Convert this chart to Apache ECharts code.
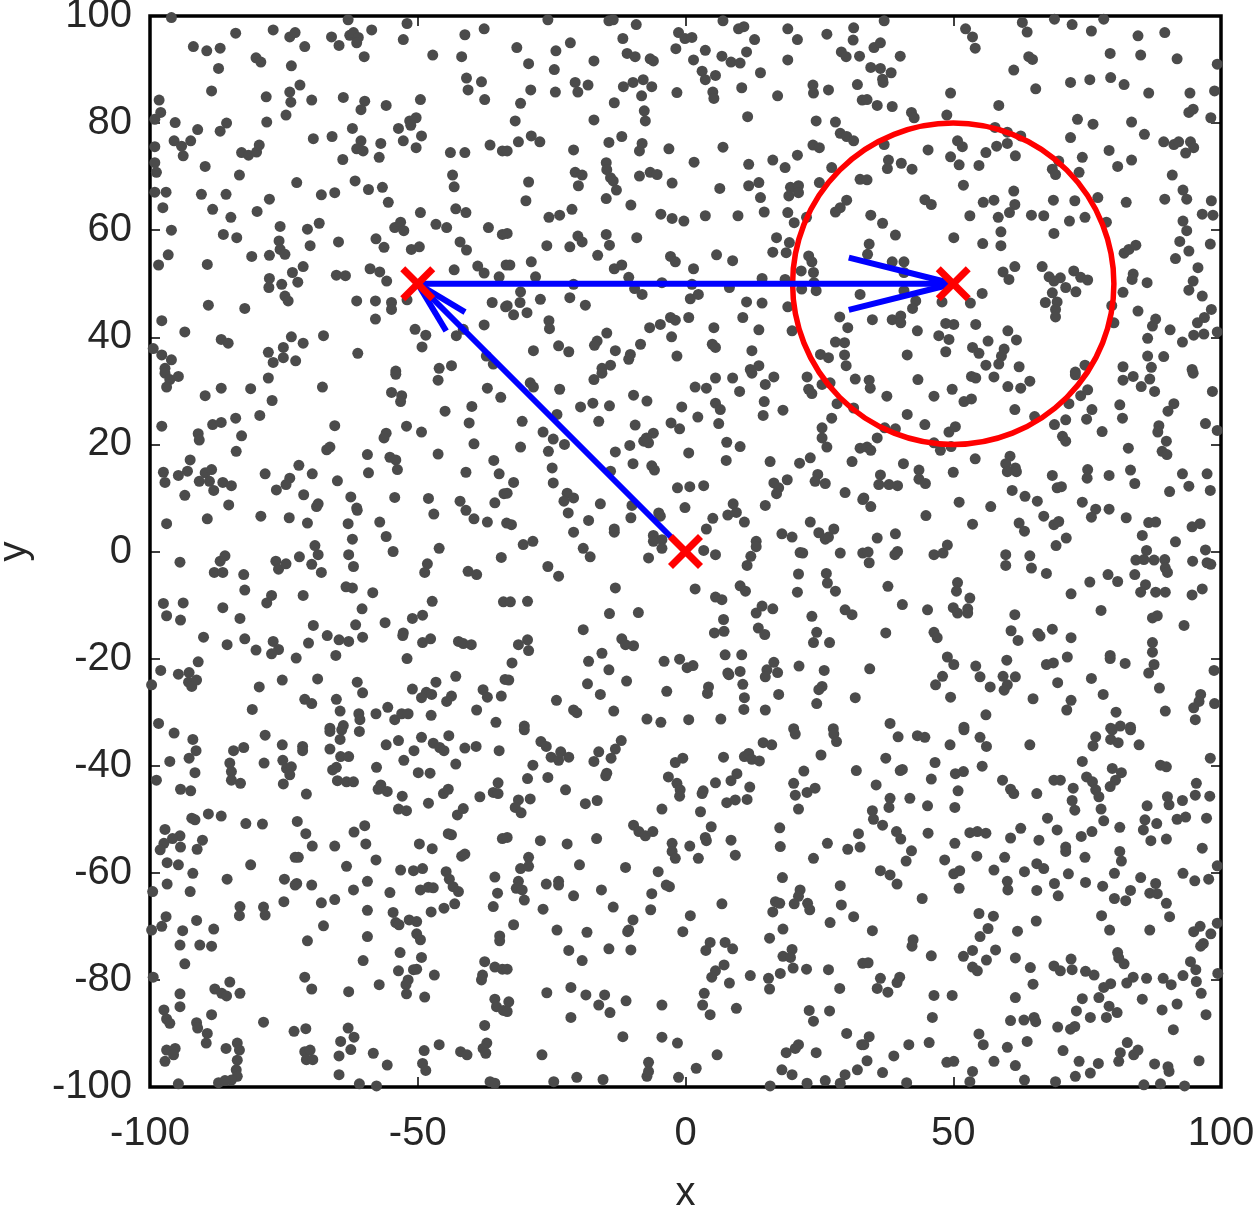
<!DOCTYPE html>
<html>
<head>
<meta charset="utf-8">
<script src="https://cdn.jsdelivr.net/npm/echarts@6/dist/echarts.min.js"></script>
<style>
html,body{margin:0;padding:0;background:#fff;}
#chart{width:1257px;height:1210px;}
</style>
</head>
<body>
<div id="chart"></div>
<script>
// ---- data (x, y in data units) ----
const pointsTopLeft = [[-96,99.7],[-84,96.8],[-77,97.4],[-73.9,96.1],[-72.9,96.9],[-66.1,96.1],[-64.7,94.5],[-63,99.3],[-62.7,96.4],[-62,96.9],[-61.1,96],[-61.4,95],[-58.6,97.4],[-60,92.4],[-52,98.6],[-52.7,95.6],[-47.2,92.7],[-41.2,96.5],[-37.6,97.6],[-41.8,92.4],[-91.9,94.3],[-89.4,93.5],[-86.9,94],[-80.2,92.2],[-79.3,91.4],[-71.1,94.3],[-73.6,90.7],[-87.2,90.2],[-88.5,86],[-78.3,84.9],[-72,87.1],[-73.9,85.8],[-73.7,83.9],[-69.8,84.3],[-63.9,84.8],[-59.9,84.1],[-60.6,82.5],[-55.9,83.3],[-49.5,84.4],[-40.9,88.4],[-40.6,86.2],[-38.1,87.7],[-37.5,84.4],[-98.3,84.3],[-98,82],[-99.1,80.7],[-95.3,80.1],[-91.1,78.8],[-85.7,80],[-86.9,78.5],[-78.2,80.2],[-74.6,81.5],[-62.2,79],[-53.6,79],[-51.5,80.4],[-50.3,81],[-51.3,79.6],[-49.3,77.6],[-52.7,76.7],[-50.3,75.4],[-95.5,76.7],[-94.1,75.7],[-92.4,76.7],[-93.8,73.9],[-99.1,75.6],[-99.1,72.6],[-98.8,70.8],[-89.7,71.9],[-82.9,74.5],[-81.6,74],[-80.1,74.6],[-79.6,75.9],[-83.3,70.3],[-69.5,77.1],[-66,77.5],[-60.6,76.7],[-61.4,75.2],[-60.2,74.8],[-56.9,76.2],[-64,73.2],[-57.2,73.6],[-43.9,74.5],[-41.2,74.5],[-36.5,75.9],[-34.2,74.8],[-43.5,70.3],[-43.2,68.1],[-72.6,68.9],[-61.7,69.2],[-59.2,67.6],[-56.6,68],[-55.5,65.2],[-99.1,67.1],[-97,67.1],[-97.6,64.2],[-90.4,66.7],[-85.8,66.7],[-88.3,63.9],[-84.9,62.4],[-77.7,65.8],[-80,63.5],[-68,66.6],[-65.5,67],[-49.5,63.3],[-42.9,64],[-41,63.3],[-96,60],[-86.3,59.2],[-83.8,58.6],[-75.7,60.7],[-75.9,58],[-75.7,56.4],[-70.6,60.2],[-68.4,61.3],[-70.1,57.1],[-64.8,57.8],[-54.3,60.5],[-53.2,61.5],[-52.6,59.9],[-46.6,61.1],[-44.6,60.5],[-36.8,60.5],[-34.2,59.2],[-57.8,58.4],[-56.3,56.8],[-51.2,56.4],[-49.7,56.9],[-42.1,57.8],[-40.9,56.3],[-96.6,55.4],[-98.4,53.5],[-89.3,53.6],[-81,55.1],[-77.7,55.3],[-74.8,55.5],[-71.4,53.2],[-73.4,52.1],[-72.4,50.3],[-77.7,51],[-77.8,49.3],[-75.4,49.9],[-74.8,47.7],[-74.2,46.8],[-58.9,52.8],[-57.1,52.2],[-55.8,50.5],[-65.2,51.6],[-63.5,51.5],[-43.2,52.6],[-38.8,53.3],[-37.6,52],[-34.8,51.3],[-33.5,53.5],[-89.1,46],[-82.3,45.4],[-61.4,46.8],[-57.9,46.8],[-54.9,46.5],[-54.9,45.2],[-52,47],[-36.1,46.5],[-33.6,45.7],[-97.8,43.1],[-93.5,41],[-86.7,39.6],[-85.4,38.9],[-73.6,40.1],[-71.4,38.9],[-67.6,40.3],[-57.9,43.4],[-50.5,41.5],[-48.5,40.4],[-49.2,38.2],[-42.8,40.3],[-41.5,41.5],[-37.6,42.3],[-99.4,37.9],[-97.8,36.7],[-96,35.8],[-97.2,34.2],[-77.9,37.2],[-77,35.3],[-75.1,38.1],[-75.1,36.2],[-72.8,35.6],[-61.2,37],[-46,34.2],[-43.7,34.7],[-37.2,36.5],[-35.9,35],[-54.1,33.7]];

const pointsTopMid = [[-25.7,99.3],[-14.3,99.1],[-13.5,99.3],[-9.2,98.4],[7,99.1],[9.9,97.6],[10.9,98],[19.1,97.6],[26.4,96.6],[31.4,97.8],[31.3,95.5],[-11.7,95.8],[-1.3,96.9],[-0.1,95.8],[1.2,96],[-1.8,93.9],[3.7,93.6],[6.8,92.5],[8.5,91.4],[10.2,91.2],[11.4,93.3],[12.9,95.6],[20.9,95.6],[19.1,91.8],[29.1,93.3],[30,92.4],[32.5,92.5],[-31.5,94.1],[-21.5,95],[-24.2,93.5],[-29.3,91.1],[-17.1,91.6],[-10.9,93],[-9.4,92.4],[-6.6,92],[-6,91.6],[1.5,91.8],[3.1,89.7],[3.7,88.1],[5.6,88.9],[-24.5,90],[14,89.4],[-20.6,87.6],[-20.1,85.8],[-18.2,87.1],[-11.6,86.8],[-9.8,87.6],[-7.9,88.1],[-6.3,86.8],[-8.2,85.1],[-28.9,86.2],[-24.3,85.8],[-30.8,83.7],[-13.3,83.8],[-1.6,85.7],[5.1,85.8],[5.3,84.6],[10.5,86.6],[17.2,85.1],[23.8,87.1],[23.9,85.6],[26.7,86.2],[32.1,87.2],[33,84.3],[-7.7,82.3],[-7.5,80.4],[-17.1,80.6],[-31.8,80.4],[11.6,81.2],[24.4,80.4],[28,80.2],[28.9,78.1],[30.1,77.5],[31.4,76.7],[-31.2,76.5],[-28.8,77.6],[-27.2,76.5],[-20.9,75],[-14.3,76.4],[-11.9,77.5],[-8.1,76.2],[-8.6,74.8],[-3.1,75.2],[7,75.5],[-33.3,74.8],[23.8,75.9],[25,75.4],[1.6,72.7],[11.8,72.3],[16.3,73.1],[18.6,71.7],[20.9,74],[27.3,71.7],[-14.8,72.6],[-14.7,71.3],[-14,69.8],[-13.5,69.2],[-20.6,70.8],[-19.3,70.3],[-20,68.3],[-29.3,69],[-8.6,70.1],[-6.6,70.8],[-5.3,70.4],[-2.5,68.8],[6.4,67.8],[11.8,68.3],[13.7,68.9],[14,66.1],[19.6,68],[21.1,68.3],[21.1,67],[19.3,66.4],[25,68.9],[32.6,69.5],[-12.9,67.5],[-29.8,65.5],[-14.8,65.9],[-10.2,64.7],[28,63.4],[28.9,64.2],[30.1,65.6],[-21.2,63.9],[-25.5,62.4],[-23.5,62.8],[-4.6,63],[-2.5,62.2],[-0.3,61.7],[3.7,62.7],[9.8,62.7],[14.7,63.4],[19.1,63.3],[20.3,61.4],[22.6,62.4],[-33.3,59.4],[-20.1,58.9],[-19.3,57.8],[-14.8,59.2],[-9.1,58.6],[-25.9,57.1],[-21.6,56.9],[-14.2,57.2],[17,58.6],[19.4,57.7],[18.8,55.8],[16.3,55.9],[-16.4,55.3],[-2.8,55.1],[-1.9,54.1],[5.8,55.4],[8.8,54.3],[23,55.2],[23.6,54.1],[-32.8,53.5],[-28.8,54.1],[-28,51.3],[-13.3,52.8],[-11.9,53.5],[-10.6,51.2],[1.5,52.8],[14.3,51],[18.6,50.8],[21.6,52.4],[23.9,52.1],[24,50.2],[-20.9,49.9],[-4.4,50.2],[1.2,49.9],[-9.5,49.1],[-8.1,48],[-30.8,48.5],[-30.9,46.5],[-33.3,45.9],[-32.1,44.2],[-29.6,44.6],[-27.1,47.1],[-21.6,47.4],[-18.7,46],[0.9,47.2],[2.4,48],[8.2,49.3],[11.4,46.6],[14.3,46.4],[19.1,45.7],[21.7,49],[24.4,48.7],[32.6,48],[-25.5,43.1],[-25.4,41.6],[-14.7,40.8],[-16.5,39.3],[-17,38.5],[-6.7,41.8],[-4.7,42.4],[-2.8,43.7],[-1.9,43.2],[0.6,43.7],[-2.6,40.1],[5.3,41.8],[10.7,43.7],[13.7,41.4],[19.9,41.2],[28.8,43.8],[30.3,41.8],[-28.4,37.5],[-23.7,38.4],[-21.8,37.3],[-13.1,37.5],[-10.3,36.8],[-10.6,35.9],[-8.4,38.7],[-1.6,36.5],[5,38.7],[5.6,38.1],[12.4,37.5],[28,39.1],[29.7,39],[29.7,36.7],[30,34.7],[25.2,36.8],[26.7,36.2],[-15.6,34.2],[-14,34.8],[12.1,34],[13.7,34.7]];

const pointsTopRight = [[37.1,99.1],[52.3,97.6],[53.6,96.1],[54.1,94],[62.9,98.8],[63.8,97],[68.9,99.4],[72.2,98.4],[78.1,99.4],[75.8,97.2],[84.5,96.3],[89.5,96.9],[35.2,94.1],[36.4,95],[40.1,92.5],[34.6,90.4],[36.4,90.2],[38.4,89.4],[36.8,88.2],[36.9,87.6],[64.1,92.4],[64.8,91.9],[61.3,89.9],[65.4,86.4],[79.3,93],[85,92.7],[91.8,92],[99.3,91],[71.9,87.6],[75.5,88.1],[79.4,88.5],[81.9,87.2],[86.5,85.6],[94.2,85.6],[98.8,86],[33.9,84.4],[35.8,83.3],[38.6,83.1],[42.2,82],[42.7,81],[49.5,85.6],[48.8,81.5],[58.5,83.3],[73.2,80.7],[76.1,79.8],[83.3,80.2],[94,82],[94.8,82.6],[98.1,81],[85.7,77.9],[71.9,77.3],[57.8,79.2],[60.1,78.3],[62.6,77.6],[58.1,75.7],[60.1,76.2],[37.1,76],[50.8,76.7],[51.7,75.6],[45.3,75],[49.5,73.7],[51.1,72.2],[56.1,74.5],[54.8,72.1],[61.6,73.9],[37.9,73.1],[37.7,71.5],[40.3,72.5],[42.3,71.4],[33.9,69.4],[69.7,72.9],[68.5,71.4],[69.1,70.4],[74.1,73.6],[73.5,70.8],[79.1,74.9],[80.7,71.9],[83.3,73.1],[89.3,76.5],[91.2,76],[92.1,76.5],[94.3,76.5],[94.9,75.4],[93.4,74.4],[90.9,70.3],[51.9,68.4],[61.3,67.3],[61.5,64.8],[60.5,63.3],[44.7,65.7],[45.9,64.8],[55.6,65.2],[57.6,65.6],[68.7,65.6],[72.7,65.5],[77,66.1],[82.3,65.2],[89.5,65.8],[92.9,67.5],[93.6,65.8],[98.2,65.5],[34.6,62.8],[36.8,61.3],[53.1,62.7],[58.4,62.4],[64.6,62.8],[66.9,62.7],[71.7,61.7],[74.6,62.4],[78.6,61.5],[92.9,61.7],[93.6,59.9],[92.3,57.9],[94,56.1],[96.5,63],[98.5,62.8],[98,57.4],[39.2,59.1],[34.3,57.4],[34,55.5],[50.1,58.6],[55.5,57.5],[58.9,59.7],[58.9,57.1],[68.8,59.4],[81.9,55.7],[82.8,56.4],[84.1,57.2],[91.5,54.7],[95.7,53],[38.6,54.1],[40.8,54.1],[40.8,52.1],[61.5,53.2],[59.3,52.2],[60.4,50.8],[66.6,53.2],[67.9,51.3],[70,51.1],[68.8,50.5],[72.5,52.4],[73.8,51.2],[75.1,50.7],[71,49.3],[72.9,48.5],[83.6,51.8],[83.4,50.8],[86.2,50.2],[94.8,50.5],[94,48.8],[96.5,47.7],[81.7,48.4],[40.8,48.7],[43,46.8],[42.4,45.4],[47.9,46.6],[53.2,46.4],[55.4,48.2],[68.5,48.3],[67.2,46.5],[69.4,46.6],[69.1,45.2],[69.1,43.8],[79.6,45.9],[84.5,44.9],[98.2,45.2],[96.9,43.7],[95.6,42.7],[34.9,43.3],[38.6,43.3],[40.2,44],[40.2,42.7],[48.6,42.6],[50.1,42.4],[54.2,42.4],[43.3,41.2],[47.3,40.3],[49.2,39.6],[60.2,41.2],[61.8,39.5],[56.5,39.3],[80,42.7],[87.8,43.4],[87.2,42.1],[90.5,41.4],[94.9,40.4],[96.8,40.6],[99.3,41],[92.8,39.1],[86.3,39.8],[41.4,36.7],[48.6,37.3],[53.6,38.1],[54.8,37],[59.5,37.8],[59,36.5],[58.5,35],[56.1,34.8],[62.3,34.5],[74.6,34.8],[72.8,33.5],[81.7,34.5],[86.3,36.5],[89.3,36.4],[87,34.4],[94.6,34]];

const pointsMidLeft = [[-97.2,33.3],[-96.3,32.1],[-94.7,32.7],[-96.9,30.7],[-89.7,29.1],[-86.7,30.5],[-81.2,30.4],[-77.9,32.4],[-77.2,28.2],[-67.8,30.7],[-54.1,33.1],[-54.9,29.7],[-53,29.1],[-53.2,28],[-46.2,32],[-37,30.5],[-34.5,28.8],[-97.8,23.4],[-91,22],[-90.8,20.8],[-88.3,23.7],[-86.7,24.1],[-84,24.9],[-82.9,21.6],[-79.5,25.4],[-83.9,18.7],[-65.5,23.5],[-67,19],[-66.4,19.5],[-55.9,22.1],[-56.3,21.2],[-52.1,23.4],[-49.3,22.3],[-44.9,26.2],[-39.9,27.1],[-40.4,24],[-39.5,20.1],[-59.4,18.1],[-46.2,18.2],[-55.2,17.6],[-54.1,17.1],[-53.8,15.3],[-35.8,17],[-34.8,14.5],[-41,14.8],[-92.5,17.1],[-97.5,14.8],[-97.2,12.9],[-94.7,14.2],[-93,15],[-90.8,13.1],[-89.7,14.7],[-88.5,15.3],[-88.9,13.1],[-88.1,11.4],[-86.4,12.9],[-84.8,12.3],[-93.5,10.5],[-85.3,8.7],[-78.5,14.5],[-72.2,16.1],[-69.7,14.5],[-73.9,13.7],[-74.6,12.5],[-76.4,11.5],[-71.3,10.6],[-65,13.2],[-59.2,14.7],[-62.5,10.2],[-61.4,8.1],[-61.3,7.7],[-68.6,8.9],[-68.9,8.4],[-54.3,10.1],[-48,9.9],[-47,7],[-42.1,9.4],[-41,7.7],[-39.5,6.1],[-37,5.5],[-35.6,9.1],[-33.9,10.8],[-33.4,5.3],[-96.9,5.2],[-89.3,6.1],[-79.3,6.6],[-74,6.3],[-70.6,5.3],[-63,5.2],[-57.1,5.5],[-55.9,2.8],[-54.6,0],[-62.2,2.3],[-69.2,1.1],[-68.6,-0.6],[-62.9,-0.6],[-62,-2.8],[-72.1,-1],[-69.8,-2.4],[-68,-3.9],[-76.5,-1.8],[-76,-3.3],[-74.6,-2.3],[-94.4,-2],[-86.9,-1.8],[-86,-0.8],[-88,-3.9],[-86.4,-3.9],[-82.5,-4.3],[-82.3,-7.2],[-46,0.6],[-48.2,-2.3],[-48.7,-3.9],[-40.6,-3.7],[-39,-4.3],[-34.4,-1.1],[-63.4,-6.6],[-62.2,-6.8],[-58.4,-7.7],[-71.4,-8.2],[-77.3,-8.2],[-78.2,-9.6],[-97.5,-9.7],[-96.9,-12],[-93.8,-9.6],[-94.3,-12.8],[-86.4,-10.5],[-83.2,-12.5],[-60.4,-10.7],[-61.6,-13.7],[-60.3,-16],[-47.3,-9.3],[-49.1,-11.9],[-51,-12.5],[-56.1,-13.3],[-52.7,-15.2],[-52.8,-15.7],[-34,-9.4],[-69.5,-13.8],[-66.9,-15.7],[-64.7,-16.5],[-62.9,-16.8],[-65.3,-19.4],[-70.4,-17.1],[-77,-16.8],[-76,-18.3],[-77.3,-19.1],[-80.2,-18.4],[-82.3,-16.3],[-85.6,-17.4],[-90,-16],[-72.7,-19.9],[-52,-20],[-49.1,-17],[-47.6,-16.3],[-42.4,-16.8],[-41.5,-17.2],[-40,-17.4],[-91,-20.6],[-98,-22.2],[-94.7,-22.9],[-92.7,-22.6],[-92.8,-24.4],[-91.3,-24],[-92.2,-25.2],[-99.7,-24.9],[-79.6,-25.3],[-75.3,-24],[-68.7,-23.8],[-61.3,-24.4],[-60.3,-26.4],[-51,-25.7],[-46.6,-24.4],[-48.4,-26.3],[-47.4,-26.7],[-49.3,-27.3],[-42.9,-23.3],[-37.8,-25.8],[-37,-27.2],[-33.7,-23.9],[-34.4,-27],[-43.7,-27],[-44.6,-28],[-71.1,-27.6],[-69.8,-28.4],[-65.2,-27.6],[-64.5,-29.8],[-61,-30.3],[-60.8,-31.4],[-57.8,-30.3],[-55.6,-29.1],[-54.3,-31.4],[-53,-30.3],[-51.8,-30.3],[-47.5,-30.6],[-80.9,-29.5],[-39,-29.6],[-35.4,-31.9],[-98.4,-32.1],[-66.4,-33],[-63.9,-32.5]];

const pointsCentre = [[-29,31.5],[-28.4,30.7],[-23.5,30.3],[-17.1,32.1],[-15.6,33.3],[-19.6,27],[-17.3,27.7],[-14.2,27.2],[-9.7,29.2],[-7.2,28.1],[-24,25.6],[-30.5,24.3],[-16.2,24.3],[-26.6,22.3],[-24.7,21],[-22.6,20],[-25.6,18.7],[-30.8,19.5],[-9.4,23.6],[-2.7,24],[-1.1,22.9],[-0.7,27],[1.8,30.7],[3.9,30.5],[5.6,32.4],[8.8,32.4],[10.1,29.9],[12.4,33.3],[14.9,31.2],[16.5,32.6],[5.6,27.7],[6.5,26.5],[2.3,25.1],[6.2,23.9],[14.7,28],[14.5,25.4],[18.2,26.4],[22.7,32.6],[23,30.3],[23.6,29.5],[25.5,31.2],[27,31.5],[31.7,32.2],[28.3,27.6],[31.4,26.8],[27.3,24.9],[25.5,23.1],[25.5,21.2],[26.4,19.5],[32.6,19.3],[-7.8,20.6],[-6.9,20.3],[-6,22.1],[-7.3,21.2],[-10.4,19.8],[-13.1,18.6],[-9.8,16.4],[-6.3,16],[-5.8,15.2],[0.6,18.4],[7.7,20.4],[10.2,19.6],[7.6,17],[15.8,16.8],[21.3,16.5],[23.3,17.5],[31.1,16.8],[-24.9,15.6],[-32.1,12.9],[-14,15],[-24.7,12.8],[-33.3,10.9],[-22.1,10.9],[-20.9,10],[-22.7,9.4],[-21.9,7.2],[-15.9,8.9],[-10,8.6],[-10.2,6.3],[-1.5,11.9],[0.8,12.1],[3.4,12.3],[-0.1,8.2],[16.5,12.8],[19,13.4],[17.4,11.9],[17,10.8],[24.7,14.4],[24.2,13.1],[26.1,12.7],[29.8,11],[33.1,9.7],[8.9,8.9],[9.5,7.3],[7.9,6.8],[11,5.5],[5.1,6.2],[3.9,4.2],[14.9,8.6],[23.3,5.5],[24.9,3.5],[26.1,2.3],[26.7,2.7],[27.7,4.2],[-5,7.2],[-4.7,6.6],[-18.1,5.8],[-13.3,4.2],[-13.3,3.6],[-32.5,5],[-20.9,3.6],[-6,3],[-4.4,2.2],[-4.4,0.6],[-6,1.9],[-6.9,-1.2],[-30.3,1.3],[-28.5,1.9],[-19.1,0.6],[-17.8,-1],[3.4,0.2],[5.6,-0.6],[13.2,1.9],[13.2,0.9],[12.2,-0.9],[11.5,-2.6],[18,3.3],[19.9,2.7],[21.4,-0.2],[21.9,-0.3],[28.9,-0.3],[33.1,-0.3],[-25.7,-2.8],[-23.7,-4.6],[-13.1,-6.8],[1.8,-7],[5.6,-8.5],[6.8,-9],[10.2,-6.4],[11.2,-7.4],[21.1,-4.2],[20.9,-7.6],[26.3,-4.1],[26.5,-5.9],[28,-7.4],[-32.7,-9.4],[-29.5,-9.3],[-14.2,-11.6],[-8.8,-11.4],[-19.1,-14.6],[7.1,-12.7],[5.4,-15.2],[7.2,-14.9],[13.2,-11.5],[14.3,-10.2],[16.3,-10.7],[13.6,-14.3],[14.8,-15.5],[23.6,-12.1],[29.8,-10.9],[31.1,-11.8],[24.5,-15.1],[23.9,-17],[26.9,-17],[-31.2,-17.4],[-29.5,-16.5],[-29.3,-18.5],[-11.9,-16.3],[-11.2,-17.4],[-9.7,-17.6],[-15.6,-19],[-18.1,-20.5],[-32.4,-20.8],[-33,-24],[-14.3,-22.1],[-4,-20.5],[-1.1,-20.1],[0.3,-21.7],[1.4,-21.3],[7.4,-19.3],[10.5,-19.3],[7.9,-22.7],[8.1,-23],[10.2,-22.4],[10.7,-24.8],[16.5,-20.7],[15.2,-22.1],[17.2,-22.6],[14.9,-23.4],[21.2,-21.4],[25.9,-22.2],[-18.3,-24.7],[-11,-24.2],[-3.5,-26.1],[4.3,-25.3],[4.1,-26.5],[11,-27.3],[17.4,-26.7],[25.5,-25.2],[24.9,-25.8],[24.5,-28.4],[31.7,-27.3],[-24.1,-27.8],[-15.9,-26.7],[-20.9,-29.6],[-20.3,-30.1],[-13.4,-29.8],[-7.2,-31.3],[-4.6,-31.9],[0.6,-31.4],[6.6,-31.3],[10.9,-29.5],[14.9,-29.6],[-30.1,-32.6],[20.2,-33.1],[27.6,-33.1]];

const pointsMidRight = [[34.3,32],[34.5,30.5],[43.4,32.1],[37.6,29],[46.4,29],[49.8,30.3],[53.4,32.7],[54.2,32.4],[57.6,32.6],[60.2,30.8],[62.6,30.5],[64.3,31.8],[52,28],[53.4,28.5],[61.5,26.5],[65.2,25.2],[41.4,25.6],[44.7,23.7],[37.2,23.1],[39.2,22.9],[35.8,21.2],[49.2,22.3],[50.4,23.3],[46.4,20.3],[47.6,18.9],[49.6,19.6],[33.9,19.5],[34.6,18.9],[72.8,33],[73.8,29.1],[75.1,30.2],[71.6,27.6],[68.9,23.7],[71,24.6],[70.4,21.5],[71,20.6],[74.9,24.7],[75.9,26.5],[77.8,22.4],[81.7,32],[83.6,32.7],[85.1,30.8],[86.7,32.2],[87.6,29.9],[81.1,27.4],[81.6,24.9],[90.1,26.2],[91.2,27.6],[88.4,23.5],[88.2,22.3],[89.8,20.6],[89,18.7],[89.9,18.1],[98.4,29.9],[97.1,23.9],[99.3,22.6],[94.8,33.3],[82.7,19.3],[54.1,17.3],[60.6,17.8],[59.8,16.4],[61.6,15.6],[60.1,14.9],[61.8,14.9],[40.7,16.4],[43.6,15.2],[43.6,13.5],[44.8,12.7],[50,14.8],[36.4,14.3],[36.1,12.5],[38,12.5],[39.6,12.3],[33.3,10],[34.6,8.4],[68.5,14.2],[69.4,11.9],[70.2,12.1],[75.1,15.3],[75,13.7],[79.1,14.2],[83.1,15.2],[83.9,12.7],[92.8,14.5],[94,12.2],[97.4,14.5],[98,11.4],[90.4,11.2],[51.1,9.2],[57,8.4],[61,11.4],[63.4,10.3],[65.7,9.4],[44.9,6.7],[53.6,5.1],[62.3,5.3],[63.3,3.8],[66.9,6.6],[68.8,5],[69.7,5.6],[71.1,2.5],[69.2,1.1],[74.1,9.2],[76.6,7.9],[75.8,6.4],[79.1,7.9],[82.3,6.3],[86.5,5.4],[87.8,5.5],[85.3,3],[94.6,4.6],[96.1,5.2],[91.5,1.8],[97.1,0.3],[98.1,-2.4],[97.4,-2.1],[35.8,2.5],[39.2,3.3],[34.1,-0.1],[34.3,-2.1],[39.1,-0.6],[39.6,0],[46.4,-0.6],[48.1,-0.3],[48.9,1.2],[59.8,-0.6],[59.8,-2.6],[64.3,-0.8],[64.6,-3.1],[67.4,-4.1],[84.1,-1.6],[86.1,0.2],[85.6,-1.5],[87.5,-1.6],[89.5,-1.5],[89.6,-3.1],[90,-3.9],[94.7,-1.8],[83.9,-4.3],[37.8,-6.5],[50.8,-5.8],[50.6,-7.4],[53.1,-8.7],[75.5,-5.7],[78.9,-4.3],[80.7,-5.6],[85.9,-6.2],[85,-7.6],[87.8,-7.6],[89.6,-7.6],[94.6,-8.1],[96.5,-7],[72,-7.9],[40.5,-9.9],[45.2,-10.9],[50,-10.5],[50.8,-11.5],[52.7,-10.7],[52.7,-11.5],[61.5,-11.8],[77.6,-11],[87.2,-12.4],[88.1,-12],[93.1,-13.8],[37.4,-15.2],[46.4,-15.1],[47,-16.1],[60.8,-14.8],[62.1,-16.6],[65.8,-15.3],[66.2,-15.8],[68.5,-14.5],[72,-16.1],[87.2,-17],[87.2,-18.8],[87.5,-21.1],[86.5,-22.7],[34.4,-21.9],[48.9,-19.7],[50.1,-21.1],[54.2,-21.4],[60,-20.3],[67.4,-21.1],[68.7,-20.8],[71.3,-19.7],[79.3,-19.4],[79.3,-20],[82.1,-20.9],[98.7,-22.2],[48,-23.3],[46.7,-24.9],[55,-23.4],[56.9,-25.3],[59.3,-23.3],[60.1,-24.9],[61.6,-23.4],[59.5,-25.9],[69.5,-24.5],[75.8,-23.7],[88.5,-25.5],[78,-26.7],[49.5,-27.2],[64.9,-27.5],[72,-27.8],[71.2,-29.6],[96.2,-26.7],[95.9,-28],[94.9,-29.2],[95.2,-31.4],[98.8,-28.4],[56.1,-30.5],[80.4,-30],[89.6,-29.8],[38.2,-32.1],[52,-32.8],[79.4,-33],[81.2,-32.6],[83.1,-32.8]];

const pointsBottomLeft = [[-95.5,-33.9],[-92,-35.1],[-91.4,-37.2],[-92.7,-38.6],[-96.3,-39.2],[-98.8,-42.7],[-94.3,-44.4],[-92.4,-44.7],[-91.6,-41.3],[-84.4,-37.2],[-82.5,-36.6],[-85.1,-39.5],[-84.8,-41.1],[-84.8,-42.7],[-83.1,-43.3],[-78.5,-34.3],[-78.7,-39.5],[-75.3,-36.1],[-71.5,-36.4],[-71.5,-37.2],[-75.2,-39],[-74.5,-40.5],[-73.6,-40.2],[-73.9,-41.7],[-75.1,-43.4],[-70.8,-45.3],[-66.4,-33.6],[-64.2,-33.3],[-64.5,-35.1],[-66.4,-36.9],[-64.4,-38.3],[-62.9,-38.3],[-65.9,-40.8],[-65.2,-40.3],[-65,-42.8],[-63.3,-43],[-62,-43],[-60.9,-33.6],[-55.9,-36.1],[-53.6,-35.3],[-57.7,-40.3],[-56.9,-43.6],[-57.4,-44.4],[-55.7,-44.8],[-52.6,-39],[-52.9,-45.7],[-53.6,-48.1],[-52.1,-48.4],[-50.7,-37.2],[-49.3,-34.7],[-47.1,-35.8],[-45.9,-36.6],[-45.1,-37.2],[-49.9,-41.3],[-47.7,-41.4],[-48,-47],[-44.2,-34.4],[-41.2,-36.7],[-39.1,-36.4],[-42.9,-39.7],[-34.8,-37.2],[-38.4,-45.8],[-35,-43.2],[-35.9,-45],[-35,-45.2],[-45.2,-45.2],[-44.3,-44.4],[-42.6,-49.2],[-41.5,-48],[-92.2,-49.8],[-91.6,-50.1],[-89.1,-49],[-86.7,-49.4],[-82.1,-50.8],[-79,-50.9],[-97.2,-51.9],[-94.4,-53.1],[-95.8,-53.6],[-97.4,-54.5],[-98.1,-55.7],[-94.3,-55.2],[-90.2,-53.9],[-91.2,-55.6],[-96.8,-58.1],[-94.7,-58.5],[-92,-60.1],[-72.5,-50.4],[-70.9,-52.7],[-69.7,-55],[-65.5,-55],[-61.9,-52.4],[-59.9,-51.2],[-59.7,-54.6],[-57.8,-57.6],[-63.3,-58.8],[-72.9,-57.1],[-72.3,-57.1],[-81.2,-58.5],[-49.7,-54.6],[-47.3,-55.5],[-44.3,-52.7],[-43.7,-52.9],[-44.7,-59.8],[-44.1,-61.2],[-41.8,-56.9],[-41.2,-56.5],[-34.2,-53.6],[-53.2,-59.5],[-50.8,-59.6],[-49.1,-59.2],[-43.4,-62.6],[-42.4,-63.5],[-35.6,-60.8],[-35.1,-63.8],[-35.9,-66.3],[-99.5,-63.5],[-96.8,-62.1],[-92.5,-63.5],[-85.6,-61.2],[-74.9,-61.2],[-72.6,-62],[-72.9,-62.3],[-69.8,-62.3],[-62,-63.2],[-59.4,-61.6],[-55.2,-63.7],[-49.5,-63.2],[-48,-62.7],[-47.1,-62.8],[-83.2,-66.3],[-83.3,-68],[-78.8,-66.4],[-78.5,-67.9],[-75,-65.4],[-68,-65.6],[-65.5,-65],[-59.4,-67],[-54.6,-67.4],[-54.1,-69.3],[-53.5,-69.7],[-51.6,-68.8],[-50.2,-69.1],[-47.5,-67.3],[-45.1,-66.6],[-43.1,-65.8],[-97,-68.2],[-97.8,-70],[-99.7,-70.7],[-91.3,-68.9],[-93.9,-70.8],[-88.1,-70.5],[-94.4,-73.5],[-90.7,-73.5],[-88.5,-73.7],[-93.5,-77],[-67.6,-69.9],[-70.6,-72.7],[-59.4,-71.9],[-50.2,-71.4],[-49.5,-72.5],[-34.7,-71.8],[-34.7,-72.7],[-53.3,-74.9],[-60.2,-76.4],[-49.3,-75.8],[-37.5,-76.6],[-35.6,-77.6],[-34.2,-78],[-53.6,-78.3],[-50.8,-78.1],[-50.2,-78],[-51.8,-80],[-52.2,-80.9],[-52.1,-82.6],[-46.9,-79.1],[-48.7,-83.2],[-37.9,-79.1],[-38.1,-80],[-99.4,-79.5],[-85.1,-80.4],[-87.9,-81.7],[-86.6,-82.5],[-85.7,-83],[-83.2,-82.5],[-94.4,-82.6],[-94.4,-85],[-71.1,-79.5],[-69.8,-81.7],[-62.9,-82.2],[-57.2,-80.9],[-35.6,-83.6],[-35.3,-85],[-34,-85.7],[-97.4,-85.6],[-96.9,-87.3],[-96.3,-88.1],[-91.3,-88],[-91.1,-89],[-89.3,-90],[-89.5,-91.8],[-88.5,-86.5],[-78.8,-87.9],[-73.1,-89.6],[-70.9,-89.1],[-63,-89],[-61.9,-90.7],[-64.4,-91.5],[-37.5,-88.5],[-37.1,-91.8],[-37.8,-92.8],[-37.3,-93.7],[-46,-92.1],[-48.8,-93.2],[-42,-93.4],[-40.8,-94],[-96.9,-93.1],[-95.3,-92.8],[-95.6,-94],[-97.2,-95.2],[-85.8,-92.8],[-83.7,-91.8],[-83.3,-93.1],[-83.7,-95],[-83.9,-96.8],[-83.7,-98],[-84.8,-98.7],[-87.2,-99.2],[-86,-98.8],[-94.7,-99.4],[-71.1,-93.4],[-70.1,-93.1],[-70.8,-94.9],[-69.6,-94.9],[-64.7,-94.2],[-62.5,-93],[-58.3,-93.7],[-55.7,-95.9],[-49.1,-95.6],[-48.5,-96.9],[-64.7,-97.7],[-60.9,-99.4],[-57.7,-99.8],[-36.5,-99],[-35.6,-99.3]];

const pointsBottomMid = [[-30.1,-33.3],[-27,-35.5],[-26,-36.4],[-25.1,-38.4],[-23.7,-39],[-23.3,-37.4],[-21.8,-38.4],[-28.5,-39.9],[-29.5,-42.4],[-25.7,-42.2],[-22.4,-44.5],[-16.2,-37.4],[-17.1,-39.2],[-13.1,-36.9],[-12,-35.3],[-13.9,-38.6],[-14.7,-41.4],[-14.9,-41.9],[-31.2,-46.4],[-31.8,-47.8],[-30.7,-48.8],[-29,-46.2],[-18.7,-47.1],[-16.5,-46.5],[-33.3,-53.4],[-27.1,-54],[-22.1,-54.6],[-16.6,-53.6],[-4.4,-48.1],[-3.2,-42.1],[-1.6,-43.3],[-1,-44.5],[-1.1,-45.7],[-1.9,-39.4],[-0.5,-38.6],[3.3,-44.7],[3.1,-45.2],[5.6,-43.2],[2.8,-48.6],[7.1,-38.4],[8.5,-42.8],[9.6,-41.5],[7.7,-46.9],[9.3,-46.4],[11.5,-46.3],[12,-44],[11,-38.3],[11.8,-37.7],[12.4,-38.8],[13.8,-39.1],[14.5,-35.7],[16.1,-36.1],[20.5,-34.1],[27.7,-34.1],[28.2,-35.5],[25.3,-38],[22.1,-41],[20.2,-43.3],[20.5,-45.5],[22.7,-45],[24.2,-44.2],[21.1,-48.1],[31.9,-40.9],[-9.7,-51.1],[-8.7,-52.3],[-7.5,-53.1],[-6.1,-52.3],[-2.5,-54.5],[-2.5,-56],[-1.9,-57.3],[0.8,-55],[2.4,-57.3],[3.7,-53.4],[3.9,-54],[4.8,-51.4],[8.5,-53.9],[9.3,-56.7],[17.6,-51.6],[17.7,-55.1],[26.5,-54.5],[30.3,-55.6],[32.3,-52.7],[32.6,-55.2],[23.9,-57.3],[-29.3,-57.1],[-30.8,-59.2],[-29.3,-58.8],[-19.8,-58.5],[-11.2,-59],[-31.2,-61.6],[-31.6,-62.9],[-30.5,-63.2],[-30.1,-65.1],[-26,-62.1],[-23.7,-61.6],[-23.7,-62.3],[-20.9,-64.3],[-15.7,-63.2],[-26.6,-66.8],[-13.5,-66.4],[-5.1,-59.8],[-3.6,-62.3],[-3,-62.6],[-6.3,-63.9],[-6.5,-66.9],[6.8,-65.8],[0.9,-68],[-0.5,-71],[-9.8,-68.8],[-10.6,-70.7],[-10.8,-71],[-32.1,-69.7],[-24,-70.7],[-18.4,-71.1],[-21.8,-74.5],[-19.3,-76.4],[-14.3,-74.2],[-10.2,-74.4],[18.1,-60.9],[21.4,-63.2],[21.1,-64.4],[20.3,-65.8],[22.8,-65.7],[23.2,-66.9],[16.8,-65.4],[17.6,-65.7],[16.3,-67.3],[28.9,-62.4],[29.1,-66],[31.4,-68.2],[27,-69.3],[18.2,-70.5],[15.7,-72.2],[4.6,-73],[3.8,-74.5],[7.4,-73],[8.8,-74.2],[7.2,-77.2],[5.6,-78.3],[4.9,-79.5],[8.2,-80.6],[12.1,-79.2],[19.9,-74.3],[18.2,-75.6],[19.6,-75.8],[17.7,-78.8],[20.1,-77.8],[22.6,-78],[15.5,-79.7],[15.7,-81.7],[26.7,-78.1],[28.8,-81.6],[33.1,-76.9],[-33.3,-78],[-33,-84.1],[-33.3,-85.9],[-25.9,-82.4],[-21.4,-81.4],[-18.6,-82.8],[-16.2,-84.7],[-15.1,-82.8],[-14.1,-86.1],[-21.4,-87],[-11.1,-83.9],[-4.4,-84.7],[3.5,-82.5],[3.2,-84.7],[4.6,-86.5],[9.5,-85.3],[23.1,-85.7],[23.9,-87.7],[26.9,-85.8],[-11.7,-90.6],[-4.4,-90.7],[-1.5,-91.8],[-26.8,-94],[5.9,-94],[2,-96.5],[-6.9,-95.4],[-7.2,-98],[-6.9,-97.1],[-1.3,-98.2],[-24.6,-99],[-20.3,-98.2],[-15.4,-98.6],[21.1,-92.1],[20.5,-92.8],[18.8,-93.6],[24.4,-93.6],[30.1,-90],[32.9,-92.1],[18,-96.8],[19.9,-97.7],[22.7,-99.3],[26.1,-98.8],[28.9,-99.3],[29.8,-97.7],[32.1,-96.8],[15.8,-99.8]];

const pointsBottomRight = [[39.7,-34.6],[43.3,-34.4],[44.7,-34.7],[49.4,-36.1],[52,-33.3],[55,-34.7],[56.2,-36.4],[64.3,-36.1],[76.6,-34.6],[76.1,-36.3],[79.4,-35.1],[80.8,-35.7],[83.1,-33.3],[79.7,-33.3],[84.7,-36.1],[37.4,-38.6],[40.5,-40.7],[40.1,-40.9],[46.6,-39.4],[45.9,-42.5],[50.4,-41.5],[51.9,-41.1],[55.4,-40.1],[50.9,-44.7],[35.6,-43.6],[38.2,-46.1],[38,-47.8],[41.9,-46.1],[45.2,-47.5],[50.3,-47.8],[34.9,-48.4],[35.1,-50],[36.8,-51.1],[39.4,-52.3],[40.2,-53.7],[45.3,-52.6],[59.2,-42.7],[60.7,-44.4],[61.3,-45.2],[65.6,-45.2],[68.8,-42.7],[70,-42.7],[74.1,-39.2],[74.9,-42.1],[76,-43],[76.6,-44.5],[77.2,-45.8],[79.7,-40.5],[81.4,-41.3],[80.3,-42.7],[79.3,-43.9],[72.4,-44.2],[72.2,-46.5],[72.7,-48.3],[77.6,-48.1],[78.1,-50.3],[88.7,-39.9],[89.8,-40.2],[95.4,-43.3],[95.2,-45.5],[98,-38.6],[97.9,-45.7],[86.2,-47.5],[90,-45.8],[90.3,-47.3],[92.8,-46.5],[91.8,-50],[93.4,-49.6],[97.3,-49.8],[85.8,-50.1],[85.5,-52],[88,-50.8],[86.9,-54],[89.8,-53.7],[81.1,-51.5],[67.6,-49.8],[62.6,-51.7],[69.4,-52],[66,-53.9],[60.7,-53.5],[53.1,-52.5],[54.5,-52.3],[56.1,-52.6],[73.9,-53.2],[75.9,-52.3],[71,-55.2],[71,-56],[96.5,-55.4],[48.4,-57.6],[50.3,-54.5],[54.4,-56.9],[59.6,-57.1],[42.2,-55.9],[41.2,-57.8],[36.4,-59.6],[38.2,-60.4],[39.5,-62.1],[44.2,-64.8],[50.1,-60.2],[51.2,-59.6],[51.1,-62.9],[57.6,-59.5],[63.3,-59.8],[65.6,-58.3],[66.9,-59.2],[60.1,-61.6],[60.2,-63.2],[65.6,-63.3],[68.9,-62],[69.6,-64.3],[71.5,-60.2],[74.6,-57.1],[74.7,-61.8],[77.9,-62.5],[81.1,-56],[81.4,-57.8],[80.1,-60.1],[85,-60.9],[87.8,-62],[86.7,-63.8],[88.1,-63.9],[89.8,-65.7],[83.1,-63.3],[82.2,-65.2],[80.1,-64.8],[92.9,-60.1],[95.1,-61.5],[97.7,-61.2],[99.3,-58.7],[90.4,-68.2],[77.7,-68],[79.2,-70.7],[86.7,-70.7],[54.8,-67.6],[57.5,-68.1],[56.5,-70.4],[55,-71.9],[65.5,-69],[62,-70.9],[34.9,-70.8],[42.5,-72.5],[42.3,-73.7],[51.9,-75.6],[53.6,-74.5],[56.2,-76.3],[57.9,-74.4],[45.9,-75.5],[53.6,-77.6],[54.5,-78.3],[34.1,-76.8],[61.6,-75.9],[64.4,-77.7],[64.9,-80.8],[68.8,-77.4],[70,-78.3],[72,-76.1],[72.2,-78.1],[74.7,-78.4],[76.3,-79.1],[80.7,-74.9],[80.9,-75.9],[81.9,-77],[79.4,-80.7],[78.1,-81.4],[82.4,-80.6],[83.6,-79.5],[86.1,-79.7],[89.2,-79.7],[90.7,-80.9],[92.9,-79.2],[94.3,-76.6],[95.3,-78.1],[95.4,-80.3],[96.3,-82.5],[96.2,-73.7],[96.7,-73.2],[94.9,-71],[96.1,-70],[98.1,-71.4],[99.3,-69.4],[99.4,-78.8],[36.4,-79.7],[35.8,-81.6],[37.8,-82.3],[39.5,-80.5],[40,-79.5],[46.4,-82.9],[49.8,-82.9],[46.1,-87],[61.6,-83.3],[60.7,-87.6],[63.2,-87.5],[65.1,-87],[65.4,-87.8],[69.5,-88.8],[71.9,-89.2],[72.7,-88.7],[74.1,-83.5],[77.2,-83.3],[79.1,-84.9],[80.6,-86.1],[78.6,-87],[73,-85.8],[75.6,-87],[85.3,-83.6],[89,-85.6],[91.8,-84.5],[97.2,-86.5],[91.1,-89.3],[34.3,-90.6],[33.3,-92.1],[54.8,-90.1],[55.6,-92.1],[41.7,-92.1],[45.5,-91.7],[38.9,-94.2],[33.9,-95.1],[36.8,-97.3],[41.3,-99.2],[48.8,-95.4],[50.1,-95.2],[53.6,-97.1],[53.1,-99],[57.6,-95.2],[60.1,-92.6],[63.8,-91.5],[61.6,-96],[63.3,-98.7],[69.1,-99],[70.5,-93.2],[73.5,-95.2],[72.8,-98],[75.6,-97.4],[77.1,-95.6],[80.9,-95.2],[81.2,-93.6],[82.5,-91.7],[83.7,-94],[84.5,-93.1],[87.6,-95.7],[90.1,-96.2],[90.3,-97.1],[95.9,-95.1],[85.6,-99.6],[88.7,-99.4],[93.2,-99.8]];

const xTicks = [-100, -50, 0, 50, 100];
const yTicks = [-100, -80, -60, -40, -20, 0, 20, 40, 60, 80, 100];

// annotations: centre (x, y) and radius of the circle
const circles = [[50, 50, 30]];
// arrows: from x, from y, to x, to y, head length (data units)
const arrows = [[0, 0, -50, 50, 10.3], [-50, 50, 50, 50, 20.1]];
// red cross markers
const crosses = [[-50, 50], [0, 0], [50, 50]];

// ---- chart ----
const allPoints = [].concat(pointsTopLeft, pointsTopMid, pointsTopRight,
  pointsMidLeft, pointsCentre, pointsMidRight,
  pointsBottomLeft, pointsBottomMid, pointsBottomRight);

const FONT = "'Liberation Sans', Arial, Helvetica, sans-serif";
const TEXT = '#262626';

function axisCommon(extra, ticks, showLabel) {
  return Object.assign({
    type: 'value',
    min: ticks[0],
    max: ticks[ticks.length - 1],
    interval: ticks[1] - ticks[0],
    splitLine: { show: false },
    axisLine: { show: false, onZero: false },
    axisTick: { show: true, inside: true, length: 10, lineStyle: { color: '#000', width: 1.5 } },
    axisLabel: { show: showLabel, color: TEXT, fontSize: 40, fontFamily: FONT },
    nameTextStyle: { color: TEXT, fontSize: 40, fontFamily: FONT }
  }, extra);
}

const chart = echarts.init(document.getElementById('chart'), null, { renderer: 'canvas' });

chart.setOption({
  animation: false,
  backgroundColor: '#fff',
  grid: {
    left: 150, top: 16, width: 1071, height: 1071,
    containLabel: false,
    outerBoundsMode: 'none',
    show: true, borderColor: '#000', borderWidth: 3.5, backgroundColor: 'transparent'
  },
  xAxis: [
    axisCommon({ position: 'bottom', name: 'x', nameLocation: 'middle', nameGap: 87,
      axisLabel: { show: true, color: TEXT, fontSize: 40, fontFamily: FONT, margin: 27 } }, xTicks, true),
    axisCommon({ position: 'top' }, xTicks, false)
  ],
  yAxis: [
    axisCommon({ position: 'left', name: 'y', nameLocation: 'middle', nameGap: 115,
      axisLabel: { show: true, color: TEXT, fontSize: 40, fontFamily: FONT, margin: 18, padding: [5, 0, 0, 0] } }, yTicks, true),
    axisCommon({ position: 'right' }, yTicks, false)
  ],
  series: [
    {
      type: 'scatter',
      data: allPoints,
      symbol: 'circle',
      symbolSize: 11,
      clip: false,
      itemStyle: { color: '#4b4b4b', opacity: 1 },
      z: 2
    },
    {
      type: 'custom',
      data: circles,
      clip: false,
      z: 3,
      encode: { x: 0, y: 1 },
      renderItem: function (params, api) {
        const c = api.coord([api.value(0), api.value(1)]);
        const r = api.size([api.value(2), 0])[0];
        return {
          type: 'circle',
          shape: { cx: c[0], cy: c[1], r: r },
          style: { fill: 'none', stroke: '#ff0000', lineWidth: 5.5 }
        };
      }
    },
    {
      type: 'custom',
      data: arrows,
      clip: false,
      z: 4,
      encode: { x: [0, 2], y: [1, 3] },
      renderItem: function (params, api) {
        const p0 = api.coord([api.value(0), api.value(1)]);
        const p1 = api.coord([api.value(2), api.value(3)]);
        const L = api.size([api.value(4), 0])[0];
        const ang = Math.atan2(p0[1] - p1[1], p0[0] - p1[0]);
        const th = 14 * Math.PI / 180;
        const h1 = [p1[0] + L * Math.cos(ang + th), p1[1] + L * Math.sin(ang + th)];
        const h2 = [p1[0] + L * Math.cos(ang - th), p1[1] + L * Math.sin(ang - th)];
        const st = { stroke: '#0000ff', lineWidth: 6, fill: 'none' };
        return {
          type: 'group',
          children: [
            { type: 'line', shape: { x1: p0[0], y1: p0[1], x2: p1[0], y2: p1[1] }, style: st },
            { type: 'line', shape: { x1: p1[0], y1: p1[1], x2: h1[0], y2: h1[1] }, style: st },
            { type: 'line', shape: { x1: p1[0], y1: p1[1], x2: h2[0], y2: h2[1] }, style: st }
          ]
        };
      }
    },
    {
      type: 'custom',
      data: crosses,
      clip: false,
      z: 5,
      encode: { x: 0, y: 1 },
      renderItem: function (params, api) {
        const c = api.coord([api.value(0), api.value(1)]);
        const s = 15;
        const st = { stroke: '#ff0000', lineWidth: 7, fill: 'none' };
        return {
          type: 'group',
          children: [
            { type: 'line', shape: { x1: c[0] - s, y1: c[1] - s, x2: c[0] + s, y2: c[1] + s }, style: st },
            { type: 'line', shape: { x1: c[0] - s, y1: c[1] + s, x2: c[0] + s, y2: c[1] - s }, style: st }
          ]
        };
      }
    }
  ]
});
</script>
</body>
</html>
